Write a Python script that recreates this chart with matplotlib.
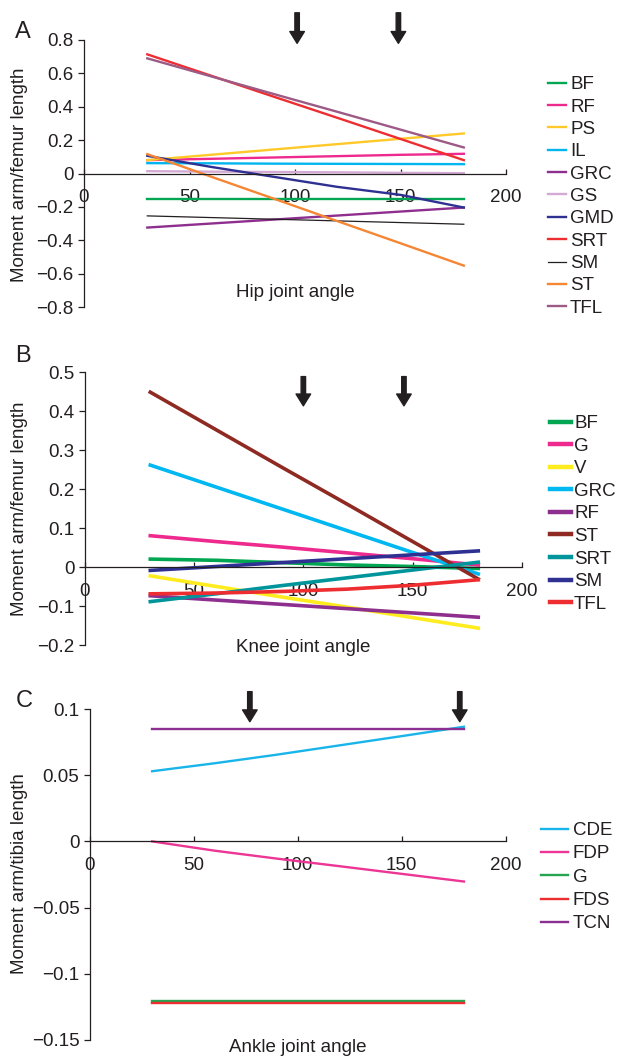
import matplotlib
matplotlib.use('Agg')
import matplotlib.pyplot as plt

plt.rcParams['font.family'] = ['Liberation Sans', 'DejaVu Sans']
plt.rcParams['font.size'] = 13.5
plt.rcParams['text.color'] = '#231f20'
plt.rcParams['xtick.color'] = '#231f20'
plt.rcParams['ytick.color'] = '#231f20'

# joint angles (degrees) where moment arms were sampled
angles = [30, 60, 90, 120, 150, 180]

# Panel A: hip
hip_names = ['BF', 'RF', 'PS', 'IL', 'GRC', 'GS', 'GMD', 'SRT', 'SM', 'ST', 'TFL']
hip_colors = ['#00a651', '#ee2a8e', '#ffc929', '#00b6ef', '#8e2f8f', '#d4aad4',
              '#2e3192', '#ee2d31', '#231f20', '#f58634', '#9c5a85']
hip_values = [
    [-0.150, -0.150, -0.150, -0.150, -0.150, -0.150],
    [0.080, 0.088, 0.096, 0.104, 0.112, 0.118],
    [0.080, 0.112, 0.144, 0.176, 0.208, 0.240],
    [0.062, 0.061, 0.059, 0.058, 0.057, 0.056],
    [-0.324, -0.300, -0.276, -0.252, -0.228, -0.204],
    [0.014, 0.011, 0.009, 0.007, 0.004, 0.002],
    [0.106, 0.040, -0.020, -0.080, -0.128, -0.204],
    [0.714, 0.587, 0.460, 0.334, 0.207, 0.080],
    [-0.254, -0.264, -0.274, -0.284, -0.294, -0.304],
    [0.116, -0.018, -0.151, -0.285, -0.418, -0.552],
    [0.690, 0.583, 0.476, 0.370, 0.263, 0.156],
]
hip_arrows = [101, 149]

# Panel B: knee
knee_names = ['BF', 'G', 'V', 'GRC', 'RF', 'ST', 'SRT', 'SM', 'TFL']
knee_colors = ['#00a651', '#ee2a8e', '#ffec1f', '#00b8f1', '#8e2f8f', '#8e2a22',
               '#00959b', '#2e3192', '#ee2d31']
knee_values = [
    [0.021, 0.018, 0.012, 0.006, 0.002, -0.003],
    [0.081, 0.066, 0.052, 0.037, 0.022, 0.006],
    [-0.022, -0.049, -0.076, -0.102, -0.129, -0.156],
    [0.262, 0.206, 0.150, 0.094, 0.038, -0.017],
    [-0.073, -0.084, -0.095, -0.106, -0.117, -0.128],
    [0.449, 0.353, 0.257, 0.162, 0.066, -0.030],
    [-0.088, -0.068, -0.047, -0.027, -0.007, 0.013],
    [-0.008, 0.002, 0.012, 0.022, 0.032, 0.042],
    [-0.068, -0.066, -0.062, -0.056, -0.046, -0.032],
]
knee_arrows = [100, 146]

# Panel C: ankle
ankle_names = ['CDE', 'FDP', 'G', 'FDS', 'TCN']
ankle_colors = ['#19b5ea', '#ec3594', '#25a552', '#ee2d31', '#8b2f90']
ankle_values = [
    [0.0530, 0.0590, 0.0655, 0.0725, 0.0795, 0.0866],
    [0.0000, -0.0070, -0.0130, -0.0187, -0.0245, -0.0303],
    [-0.1203, -0.1203, -0.1203, -0.1203, -0.1203, -0.1203],
    [-0.1218, -0.1218, -0.1218, -0.1218, -0.1218, -0.1218],
    [0.0848, 0.0848, 0.0848, 0.0848, 0.0848, 0.0848],
]
ankle_arrows = [77, 178]

W, H = 617, 1056
fig = plt.figure(figsize=(W / 100, H / 100), dpi=100)


def px_axes(left, right, top, bottom):
    return fig.add_axes([left / W, 1 - bottom / H, (right - left) / W, (bottom - top) / H])


def style_axis(ax, ylim, yticks, yticklabels):
    ax.set_xlim(0, 200)
    ax.set_ylim(*ylim)
    ax.spines['top'].set_visible(False)
    ax.spines['right'].set_visible(False)
    ax.spines['bottom'].set_position(('data', 0))
    for s in ('left', 'bottom'):
        ax.spines[s].set_color('#231f20')
        ax.spines[s].set_linewidth(0.9)
    ax.set_xticks([0, 50, 100, 150, 200])
    ax.set_yticks(yticks)
    ax.set_yticklabels(yticklabels)
    ax.tick_params(axis='x', direction='in', length=3.5, width=0.9, pad=11)
    ax.tick_params(axis='y', direction='out', length=4.5, width=0.9, pad=3)
    ax.patch.set_alpha(0)


def draw_arrows(ax, xs, y_top, y_tip):
    for x in xs:
        ax.annotate('', xy=(x, y_tip), xytext=(x, y_top), annotation_clip=False,
                    arrowprops=dict(facecolor='#231f20', edgecolor='#231f20',
                                    width=3.2, headwidth=10.5, headlength=8.5, shrink=0))


# ---- A ----
axA = px_axes(84, 506, 40, 307)
for name, col, vals in zip(hip_names, hip_colors, hip_values):
    lw = 0.9 if name == 'SM' else 1.7
    axA.plot(angles, vals, color=col, lw=lw, label=name)
style_axis(axA, (-0.8, 0.8), [-0.8, -0.6, -0.4, -0.2, 0, 0.2, 0.4, 0.6, 0.8],
           ['\u22120.8', '\u22120.6', '\u22120.4', '\u22120.2', '0', '0.2', '0.4', '0.6', '0.8'])
draw_arrows(axA, hip_arrows, 0.963, 0.78)
axA.text(100, -0.716, 'Hip joint angle', ha='center', va='center')
axA.legend(loc='upper left', bbox_to_anchor=(548 / W, 1 - 76 / H), bbox_transform=fig.transFigure,
           frameon=False, handlelength=0.98, handletextpad=0.2, labelspacing=0.28,
           borderpad=0, borderaxespad=0)
fig.text(15 / W, 1 - 38 / H, 'A', fontsize=17, va='baseline')
fig.text(19.5 / W, 1 - 175 / H, 'Moment arm/femur length', rotation=90, ha='center', va='center')

# ---- B ----
axB = px_axes(84.7, 522, 372.3, 645.3)
for name, col, vals in zip(knee_names, knee_colors, knee_values):
    axB.plot(angles, vals, color=col, lw=2.6, label=name)
style_axis(axB, (-0.2, 0.5), [-0.2, -0.1, 0, 0.1, 0.2, 0.3, 0.4, 0.5],
           ['\u22120.2', '\u22120.1', '0', '0.1', '0.2', '0.3', '0.4', '0.5'])
draw_arrows(axB, knee_arrows, 0.489, 0.414)
axB.text(100, -0.205, 'Knee joint angle', ha='center', va='center')
leg = axB.legend(loc='upper left', bbox_to_anchor=(550 / W, 1 - 415 / H), bbox_transform=fig.transFigure,
                 frameon=False, handlelength=1.12, handletextpad=0.16, labelspacing=0.29,
                 borderpad=0, borderaxespad=0)
for line in leg.get_lines():
    line.set_linewidth(3.2)
fig.text(15.5 / W, 1 - 361.7 / H, 'B', fontsize=17, va='baseline')
fig.text(19.5 / W, 1 - 509 / H, 'Moment arm/femur length', rotation=90, ha='center', va='center')

# ---- C ----
axC = px_axes(89.8, 505.5, 709, 1040)
for name, col, vals in zip(ankle_names, ankle_colors, ankle_values):
    axC.plot(angles, vals, color=col, lw=1.7, label=name)
style_axis(axC, (-0.15, 0.1), [-0.15, -0.1, -0.05, 0, 0.05, 0.1],
           ['\u22120.15', '\u22120.1', '\u22120.05', '0', '0.05', '0.1'])
draw_arrows(axC, ankle_arrows, 0.1131, 0.0904)
axC.text(100, -0.1555, 'Ankle joint angle', ha='center', va='center')
axC.legend(loc='upper left', bbox_to_anchor=(540.7 / W, 1 - 822 / H), bbox_transform=fig.transFigure,
           frameon=False, handlelength=1.47, handletextpad=0.23, labelspacing=0.33,
           borderpad=0, borderaxespad=0)
fig.text(15.5 / W, 1 - 706.7 / H, 'C', fontsize=17, va='baseline')
fig.text(19.5 / W, 1 - 874 / H, 'Moment arm/tibia length', rotation=90, ha='center', va='center')

fig.savefig('out.png', dpi=100)
